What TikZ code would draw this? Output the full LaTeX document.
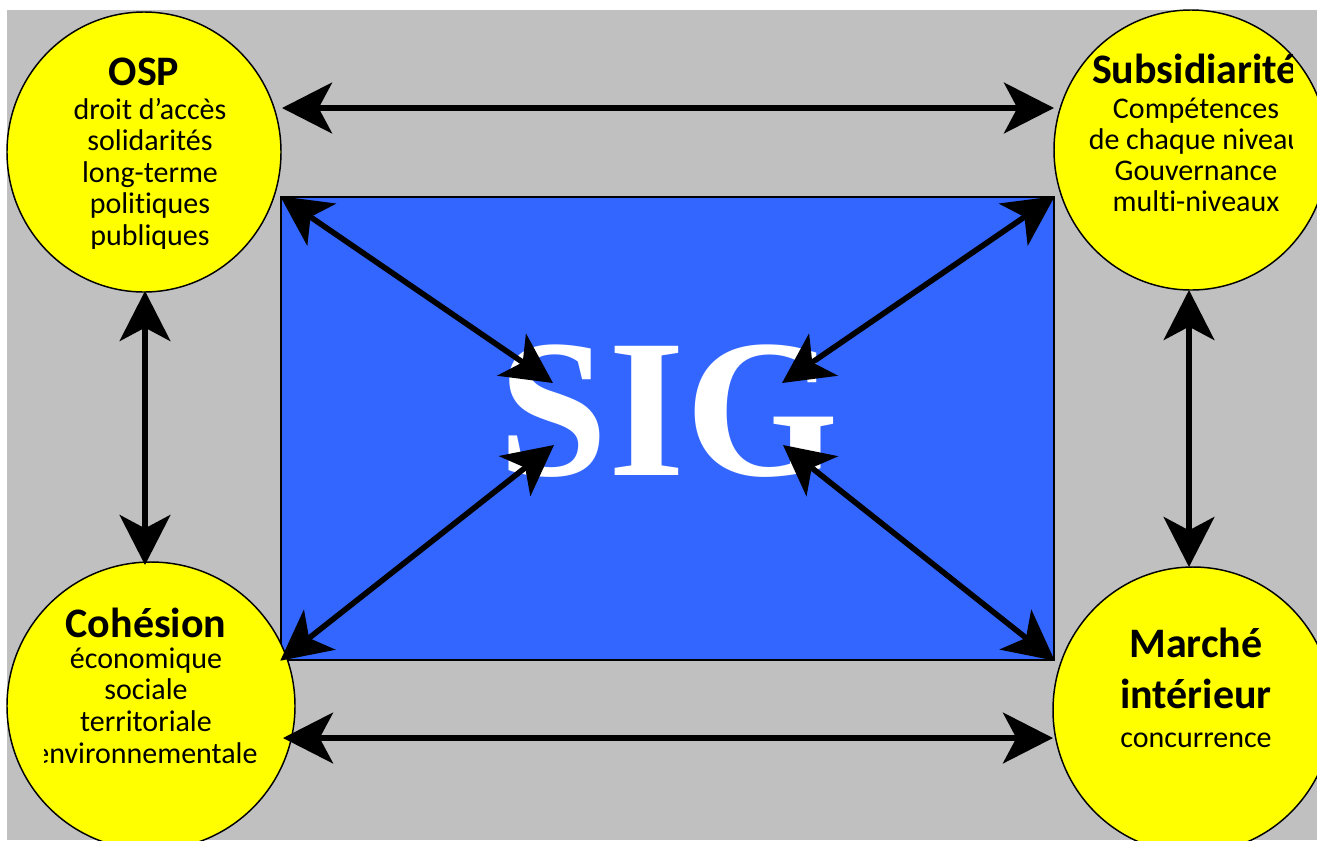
\documentclass[tikz,border=0pt]{standalone}
\usepackage{fontspec}
\setmainfont{Carlito}[Ligatures=NoCommon,RawFeature={-liga;-clig;-dlig}]
\newfontfamily\sigfont{Liberation Serif}
\usetikzlibrary{shapes.geometric,arrows.meta}
\definecolor{bggray}{HTML}{C0C0C0}
\definecolor{sigblue}{HTML}{3366FF}
\definecolor{cyellow}{HTML}{FFFF00}
\tikzset{
  circ/.style={ellipse, draw=black, line width=1.1pt, fill=cyellow, inner sep=0pt},
  ttl/.style={font=\fontsize{31.5}{36}\selectfont\bfseries, anchor=base, inner sep=0pt},
  bdy/.style={font=\fontsize{22.5}{26}\selectfont, anchor=base, inner sep=0pt},
  tipS/.tip={Stealth[length=37.5pt,width=38pt,inset=10pt]},
  arr/.style={line width=4.2pt, tipS-tipS},
}
\begin{document}
\begin{tikzpicture}[x=0.75pt,y=-0.75pt]
\useasboundingbox (0,0) rectangle (1317,840);
\fill[bggray] (7,10) rectangle (1317,840);
% central rectangle
\node[draw=black, line width=1.1pt, fill=sigblue, minimum width=579.75pt, minimum height=347.25pt, inner sep=0pt] (sig) at (667.5,428.5) {};
\node[anchor=base, inner sep=0pt, text=white, font=\sigfont\bfseries\fontsize{148}{150}\selectfont] (sigtxt) at (669,475) {SIG};
% circles
\node[circ, minimum width=205.5pt, minimum height=210pt] (osp) at (144,152) {};
\node[circ, minimum width=205.5pt, minimum height=210pt] (sub) at (1191,150) {};
\node[circ, minimum width=216pt, minimum height=216pt] (coh) at (151,706) {};
\node[circ, minimum width=210pt, minimum height=214.5pt] (mar) at (1193,710) {};
% texts
\begin{scope}
\clip (40,40) rectangle (250,248);
\node[ttl] (ospT) at (144,85) {OSP};
\foreach \t [count=\i] in {droit d’accès,solidarités,long-terme,politiques,publiques}
  \node[bdy] (osp\i) at (150,{119+31.5*(\i-1)}) {\t};
\end{scope}
\begin{scope}
\clip (1088,40) rectangle (1292,260);
\node[ttl] (subT) at (1195,83) {Subsidiarité};
\foreach \t [count=\i] in {Compétences,de chaque niveau,Gouvernance,multi-niveaux}
  \node[bdy] (sub\i) at (1196,{118+31.3*(\i-1)}) {\t};
\end{scope}
\begin{scope}
\clip (44,590) rectangle (258,800);
\node[ttl] (cohT) at (146,637) {Cohésion};
\foreach \t [count=\i] in {économique,sociale,territoriale,environnementale}
  \node[bdy] (coh\i) at (146,{668+31.7*(\i-1)}) {\t};
\end{scope}
\node[ttl] (marT1) at (1196,657) {Marché};
\node[ttl] (marT2) at (1196,708) {intérieur};
\node[bdy] (mar1) at (1196,747) {concurrence};
% arrow end points
\coordinate (tl) at (282,108);
\coordinate (tr) at (1054,108);
\coordinate (bl) at (283,738);
\coordinate (br) at (1053,738);
\coordinate (lv1) at (145,291);
\coordinate (lv2) at (145,565);
\coordinate (rv1) at (1189,290);
\coordinate (rv2) at (1189,567);
\coordinate (cnw) at (553,383);
\coordinate (cne) at (782,383);
\coordinate (csw) at (554,445);
\coordinate (cse) at (783,445);
% arrows
\draw[arr] (tl) -- (tr);
\draw[arr] (bl) -- (br);
\draw[arr] (lv1) -- (lv2);
\draw[arr] (rv1) -- (rv2);
\draw[arr] (sig.north west) -- (cnw);
\draw[arr] (sig.north east) -- (cne);
\draw[arr] (sig.south west) -- (csw);
\draw[arr] (sig.south east) -- (cse);
\end{tikzpicture}
\end{document}
